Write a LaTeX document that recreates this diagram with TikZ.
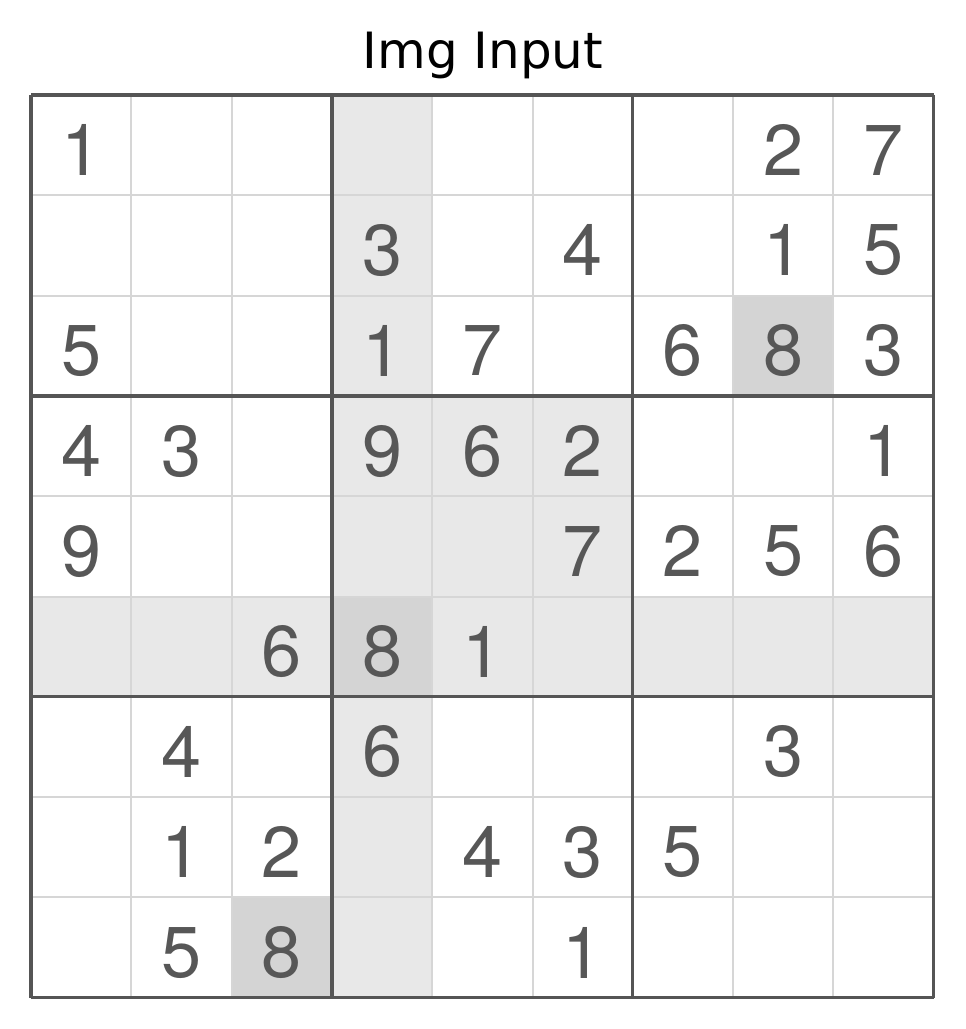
\documentclass[tikz,border=0pt]{standalone}
\usepackage{fontspec}
\setmainfont{TeX Gyre Heros}
\newfontfamily\titlefont{DejaVu Sans}
\usepackage{tikz}

\definecolor{litegray}{HTML}{E8E8E8}
\definecolor{darkgray}{HTML}{D4D4D4}
\definecolor{linegray}{HTML}{D6D6D6}
\definecolor{boxgray}{HTML}{555555}
\definecolor{digitgray}{HTML}{575757}

\tikzset{
  titletext/.style={font=\titlefont\fontsize{25}{30}\selectfont, anchor=base},
  digit/.style={font=\fontsize{36}{40}\selectfont, text=digitgray, inner sep=0pt, yshift=-2.5pt},
  cellline/.style={linegray, line width=1pt},
  boxline/.style={boxgray, line width=1.6pt}
}

\begin{document}
\begin{tikzpicture}[x=0.5pt,y=-0.5pt]
                              \useasboundingbox (0,0) rectangle (965,1029);

                              % Title
                              \node[titletext] (title) at (483,68) {Img Input};

                              \begin{scope}[shift={(31,95)}, x=50.15pt, y=-50.15pt]
                              % Highlighted row, column and box
                              \fill[litegray] (3,0) rectangle (4,9);
                              \fill[litegray] (0,5) rectangle (9,6);
                              \fill[litegray] (3,3) rectangle (6,6);
                              % Same digit as selected cell
                              \fill[darkgray] (3,5) rectangle (4,6);
                              \fill[darkgray] (7,2) rectangle (8,3);
                              \fill[darkgray] (2,8) rectangle (3,9);

                              % Grid
                              \foreach \i in {1,2,4,5,7,8}{
                                \draw[cellline] (\i,0) -- (\i,9);
                                \draw[cellline] (0,\i) -- (9,\i);
                              }
                              \foreach \i in {0,3,6,9}{
                                \draw[boxline] (\i,0) -- (\i,9);
                                \draw[boxline] (0,\i) -- (9,\i);
                              }

                              % Givens (row/column/value)
                              \foreach \r/\c/\v in {0/0/1, 0/7/2, 0/8/7,
                                                    1/3/3, 1/5/4, 1/7/1, 1/8/5,
                                                    2/0/5, 2/3/1, 2/4/7, 2/6/6, 2/7/8, 2/8/3,
                                                    3/0/4, 3/1/3, 3/3/9, 3/4/6, 3/5/2, 3/8/1,
                                                    4/0/9, 4/5/7, 4/6/2, 4/7/5, 4/8/6,
                                                    5/2/6, 5/3/8, 5/4/1,
                                                    6/1/4, 6/3/6, 6/7/3,
                                                    7/1/1, 7/2/2, 7/4/4, 7/5/3, 7/6/5,
                                                    8/1/5, 8/2/8, 8/5/1}
                                \node[digit] (d\r\c) at (\c+0.5,\r+0.5) {\v};
                              \end{scope}
                        \end{tikzpicture}
\end{document}
